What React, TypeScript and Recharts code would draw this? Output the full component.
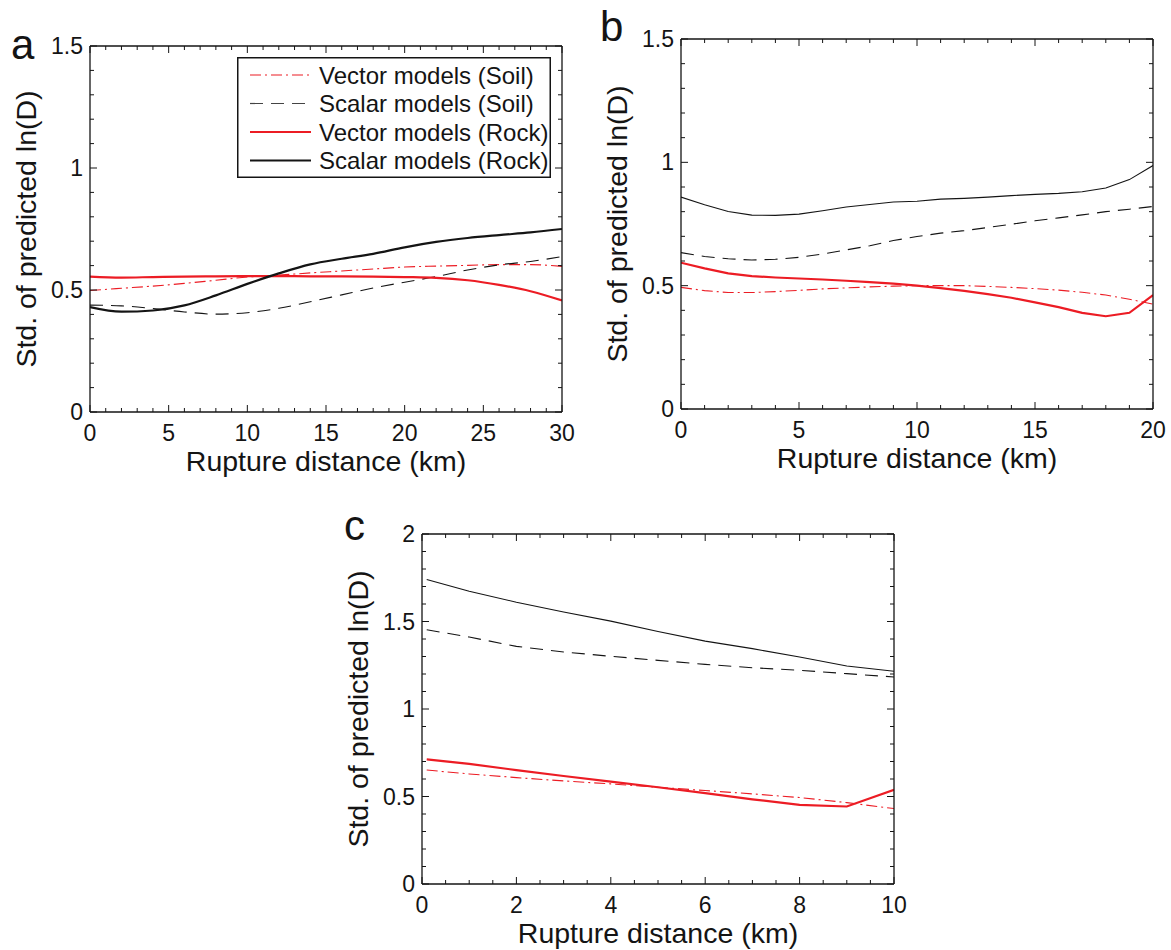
import React from 'react';
import { LineChart, Line, XAxis, YAxis, Legend, Customized } from 'recharts';

const FONT = "'Liberation Sans', Arial, Helvetica, sans-serif";
const RED = '#ec1c24';
const BLACK = '#141414';

// ---------- Panel a (0–30 km) ----------
const distA = [0, 2, 4, 6, 8, 10, 12, 14, 16, 18, 20, 22, 24, 26, 28, 30];
const vectorSoilA = [0.498, 0.507, 0.516, 0.527, 0.54, 0.553, 0.561, 0.57, 0.578, 0.586, 0.594, 0.598, 0.601, 0.604, 0.604, 0.597];
const scalarSoilA = [0.438, 0.435, 0.424, 0.41, 0.401, 0.407, 0.425, 0.452, 0.48, 0.508, 0.532, 0.555, 0.582, 0.603, 0.617, 0.637];
const vectorRockA = [0.555, 0.551, 0.553, 0.555, 0.556, 0.557, 0.557, 0.556, 0.556, 0.555, 0.553, 0.55, 0.54, 0.521, 0.495, 0.457];
const scalarRockA = [0.43, 0.411, 0.416, 0.437, 0.478, 0.525, 0.568, 0.605, 0.628, 0.648, 0.675, 0.697, 0.713, 0.725, 0.736, 0.75];

// ---------- Panel b (0–20 km) ----------
const distB = [0, 1, 2, 3, 4, 5, 6, 7, 8, 9, 10, 11, 12, 13, 14, 15, 16, 17, 18, 19, 20];
const vectorSoilB = [0.493, 0.48, 0.472, 0.472, 0.476, 0.481, 0.487, 0.491, 0.495, 0.498, 0.5, 0.5, 0.5, 0.497, 0.493, 0.488, 0.482, 0.473, 0.462, 0.445, 0.425];
const scalarSoilB = [0.634, 0.618, 0.609, 0.604, 0.607, 0.615, 0.628, 0.645, 0.662, 0.683, 0.699, 0.713, 0.723, 0.736, 0.749, 0.763, 0.775, 0.787, 0.8, 0.81, 0.821];
const vectorRockB = [0.593, 0.57, 0.55, 0.539, 0.533, 0.529, 0.525, 0.52, 0.514, 0.508, 0.5, 0.49, 0.479, 0.466, 0.451, 0.432, 0.413, 0.39, 0.376, 0.39, 0.462];
const scalarRockB = [0.859, 0.828, 0.801, 0.786, 0.785, 0.79, 0.804, 0.819, 0.829, 0.839, 0.842, 0.851, 0.854, 0.859, 0.865, 0.87, 0.874, 0.881, 0.896, 0.93, 0.987];

// ---------- Panel c (0–10 km) ----------
const distC = [0.1, 1, 2, 3, 4, 5, 6, 7, 8, 9, 10];
const vectorSoilC = [0.651, 0.629, 0.608, 0.589, 0.572, 0.553, 0.534, 0.515, 0.494, 0.465, 0.431];
const scalarSoilC = [1.453, 1.411, 1.358, 1.326, 1.301, 1.278, 1.255, 1.236, 1.221, 1.202, 1.183];
const vectorRockC = [0.712, 0.686, 0.651, 0.617, 0.585, 0.553, 0.519, 0.484, 0.452, 0.443, 0.538];
const scalarRockC = [1.74, 1.673, 1.61, 1.554, 1.502, 1.443, 1.388, 1.345, 1.297, 1.246, 1.216];

// ---------- Ticks & labels ----------
const xMajorA = [0, 5, 10, 15, 20, 25, 30];
const xMajorB = [0, 5, 10, 15, 20];
const xMajorC = [0, 2, 4, 6, 8, 10];
const yMajorAB = [0, 0.5, 1, 1.5];
const yMajorC = [0, 0.5, 1, 1.5, 2];

const legendLabels = ['Vector models (Soil)', 'Scalar models (Soil)', 'Vector models (Rock)', 'Scalar models (Rock)'];
const xLabel = 'Rupture distance (km)';
const yLabel = 'Std. of predicted ln(D)';

function range(start: number, end: number, step: number): number[] {
  const out: number[] = [];
  for (let i = 0; start + i * step <= end + 1e-9; i++) out.push(+(start + i * step).toFixed(4));
  return out;
}

const fmt = (v: number) => String(Number(v.toFixed(2)));
const isMajor = (majors: number[], v: number) => majors.some((m) => Math.abs(m - v) < 1e-6);

const TICK_FS = 23;
const LABEL_FS = 28.5;
const MAJ = 7;
const MIN = 4;

function tickFactory(side: 'bottom' | 'top' | 'left' | 'right', majors: number[]) {
  return (props: any) => {
    const { x, y, payload } = props;
    const v = payload.value as number;
    const major = isMajor(majors, v);
    const len = major ? MAJ : MIN;
    let line;
    let label = null;
    if (side === 'bottom') {
      line = <line x1={x} x2={x} y1={y} y2={y - len} stroke={BLACK} strokeWidth={1} />;
      if (major)
        label = (
          <text x={x} y={y + 29} textAnchor="middle" fontSize={TICK_FS} fontFamily={FONT} fill={BLACK}>
            {fmt(v)}
          </text>
        );
    } else if (side === 'top') {
      line = <line x1={x} x2={x} y1={y} y2={y + len} stroke={BLACK} strokeWidth={1} />;
    } else if (side === 'left') {
      line = <line x1={x} x2={x + len} y1={y} y2={y} stroke={BLACK} strokeWidth={1} />;
      if (major)
        label = (
          <text x={x - 7} y={y + 8} textAnchor="end" fontSize={TICK_FS} fontFamily={FONT} fill={BLACK}>
            {fmt(v)}
          </text>
        );
    } else {
      line = <line x1={x} x2={x - len} y1={y} y2={y} stroke={BLACK} strokeWidth={1} />;
    }
    return (
      <g>
        {line}
        {label}
      </g>
    );
  };
}

const DASH_DOT = '11 4 2 4';
const DASHED = '13 8';

function LegendBox() {
  const w = 314;
  const h = 121;
  const rows = [
    { color: RED, width: 1.2, dash: DASH_DOT },
    { color: '#444', width: 1.2, dash: DASHED },
    { color: RED, width: 2.2, dash: undefined },
    { color: BLACK, width: 2.2, dash: undefined },
  ];
  return (
    <svg width={w} height={h} style={{ display: 'block', background: '#fff' }}>
      <rect x={0.75} y={0.75} width={w - 1.5} height={h - 1.5} fill="#fff" stroke={BLACK} strokeWidth={1.5} />
      {rows.map((r, i) => {
        const cy = 18 + i * 28.5;
        return (
          <g key={i}>
            <line x1={13} x2={74} y1={cy} y2={cy} stroke={r.color} strokeWidth={r.width} strokeDasharray={r.dash} />
            <text x={82} y={cy + 8.5} fontSize={24} fontFamily={FONT} fill={BLACK}>
              {legendLabels[i]}
            </text>
          </g>
        );
      })}
    </svg>
  );
}

type PanelProps = {
  letter: string;
  letterX: number;
  letterY: number;
  plotLeft: number;
  plotTop: number;
  plotW: number;
  plotH: number;
  xDomain: [number, number];
  xMajor: number[];
  xMinorStep: number;
  yDomain: [number, number];
  yMajor: number[];
  dist: number[];
  vs: number[];
  ss: number[];
  vr: number[];
  sr: number[];
  scalarRockWidth: number;
  lineType: 'monotone' | 'linear';
  legend?: { left: number; top: number };
};

function Panel(p: PanelProps) {
  const YW = 90;
  const RW = 10;
  const MT = 30;
  const TH = 10;
  const BH = 70;
  const MR = 10;
  const width = YW + p.plotW + RW + MR;
  const height = MT + TH + p.plotH + BH;
  const left = p.plotLeft - YW;
  const top = p.plotTop - MT - TH;
  const rows = p.dist.map((x, i) => ({ x, vs: p.vs[i], ss: p.ss[i], vr: p.vr[i], sr: p.sr[i] }));
  const xTicks = range(p.xDomain[0], p.xDomain[1], p.xMinorStep);
  const yTicks = range(p.yDomain[0], p.yDomain[1], 0.1);
  return (
    <div style={{ position: 'absolute', left, top, width, height }}>
      <LineChart width={width} height={height} data={rows} margin={{ top: MT, right: MR, left: 0, bottom: 0 }}>
        <XAxis
          xAxisId="b"
          type="number"
          dataKey="x"
          domain={p.xDomain}
          allowDataOverflow
          ticks={xTicks}
          interval={0}
          height={BH}
          tickSize={0}
          tickMargin={0}
          tickLine={false}
          axisLine={{ stroke: BLACK, strokeWidth: 1.3 }}
          tick={tickFactory('bottom', p.xMajor)}
          label={{ value: xLabel, position: 'insideBottom', offset: 11, fontSize: LABEL_FS, fill: BLACK, fontFamily: FONT }}
        />
        <XAxis
          xAxisId="t"
          orientation="top"
          type="number"
          dataKey="x"
          domain={p.xDomain}
          allowDataOverflow
          ticks={xTicks}
          interval={0}
          height={TH}
          tickSize={0}
          tickMargin={0}
          tickLine={false}
          axisLine={{ stroke: BLACK, strokeWidth: 1.3 }}
          tick={tickFactory('top', p.xMajor)}
        />
        <YAxis
          yAxisId="l"
          type="number"
          domain={p.yDomain}
          allowDataOverflow
          ticks={yTicks}
          interval={0}
          width={YW}
          tickSize={0}
          tickMargin={0}
          tickLine={false}
          axisLine={{ stroke: BLACK, strokeWidth: 1.3 }}
          tick={tickFactory('left', p.yMajor)}
          label={{ value: yLabel, angle: -90, position: 'center', dx: -19, fontSize: LABEL_FS, fill: BLACK, fontFamily: FONT }}
        />
        <YAxis
          yAxisId="r"
          orientation="right"
          type="number"
          domain={p.yDomain}
          allowDataOverflow
          ticks={yTicks}
          interval={0}
          width={RW}
          tickSize={0}
          tickMargin={0}
          tickLine={false}
          axisLine={{ stroke: BLACK, strokeWidth: 1.3 }}
          tick={tickFactory('right', p.yMajor)}
        />
        <Line xAxisId="b" yAxisId="l" type={p.lineType} dataKey="vs" name={legendLabels[0]} stroke={RED} strokeWidth={1.1} strokeDasharray={DASH_DOT} dot={false} isAnimationActive={false} />
        <Line xAxisId="b" yAxisId="l" type={p.lineType} dataKey="ss" name={legendLabels[1]} stroke={BLACK} strokeWidth={1.1} strokeDasharray={DASHED} dot={false} isAnimationActive={false} />
        <Line xAxisId="b" yAxisId="l" type={p.lineType} dataKey="vr" name={legendLabels[2]} stroke={RED} strokeWidth={2.2} dot={false} isAnimationActive={false} />
        <Line xAxisId="b" yAxisId="l" type={p.lineType} dataKey="sr" name={legendLabels[3]} stroke={BLACK} strokeWidth={p.scalarRockWidth} dot={false} isAnimationActive={false} />
        {p.legend && (
          <Legend
            layout="vertical"
            align="center"
            verticalAlign="middle"
            content={() => <LegendBox />}
            wrapperStyle={{ position: 'absolute', left: p.legend.left, top: p.legend.top, bottom: 'auto', right: 'auto', width: 314, height: 121 }}
          />
        )}
        <Customized
          component={() => (
            <text x={p.letterX - left} y={p.letterY - top} fontSize={42} fontFamily={FONT} fill={BLACK}>
              {p.letter}
            </text>
          )}
        />
      </LineChart>
    </div>
  );
}

export default function App() {
  return (
    <div style={{ position: 'absolute', left: 0, top: 0, width: 1171, height: 950, background: '#fff', overflow: 'hidden' }}>
      <Panel
        letter="a"
        letterX={11}
        letterY={59}
        plotLeft={90}
        plotTop={46}
        plotW={472}
        plotH={366}
        xDomain={[0, 30]}
        xMajor={xMajorA}
        xMinorStep={1}
        yDomain={[0, 1.5]}
        yMajor={yMajorAB}
        dist={distA}
        vs={vectorSoilA}
        ss={scalarSoilA}
        vr={vectorRockA}
        sr={scalarRockA}
        scalarRockWidth={2.2}
        lineType="monotone"
        legend={{ left: 237, top: 51 }}
      />
      <Panel
        letter="b"
        letterX={600}
        letterY={41}
        plotLeft={681}
        plotTop={39}
        plotW={472}
        plotH={370}
        xDomain={[0, 20]}
        xMajor={xMajorB}
        xMinorStep={1}
        yDomain={[0, 1.5]}
        yMajor={yMajorAB}
        dist={distB}
        vs={vectorSoilB}
        ss={scalarSoilB}
        vr={vectorRockB}
        sr={scalarRockB}
        scalarRockWidth={1.1}
        lineType="linear"
      />
      <Panel
        letter="c"
        letterX={344}
        letterY={540}
        plotLeft={422}
        plotTop={534}
        plotW={472}
        plotH={350}
        xDomain={[0, 10]}
        xMajor={xMajorC}
        xMinorStep={0.5}
        yDomain={[0, 2]}
        yMajor={yMajorC}
        dist={distC}
        vs={vectorSoilC}
        ss={scalarSoilC}
        vr={vectorRockC}
        sr={scalarRockC}
        scalarRockWidth={1.1}
        lineType="linear"
      />
    </div>
  );
}
